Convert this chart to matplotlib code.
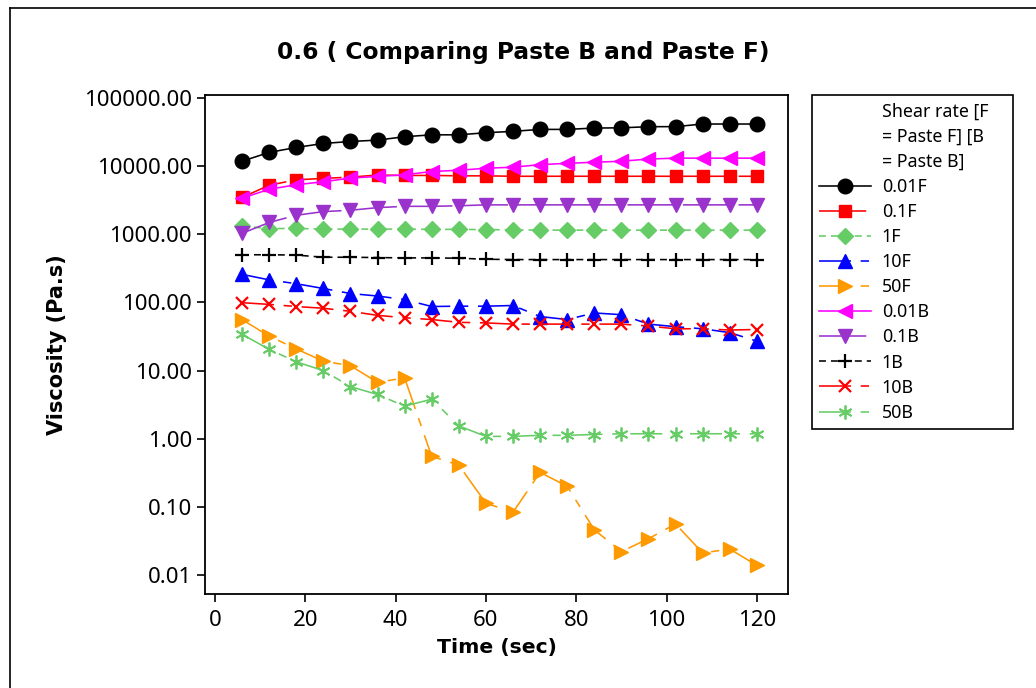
import matplotlib
matplotlib.use("Agg")
import matplotlib.pyplot as plt
from matplotlib.lines import Line2D
from matplotlib.ticker import FixedLocator, FixedFormatter

plt.rcParams['font.family'] = ['Noto Sans', 'DejaVu Sans']
plt.rcParams['lines.scale_dashes'] = False

time_sec = [6, 12, 18, 24, 30, 36, 42, 48, 54, 60, 66, 72, 78, 84, 90, 96, 102, 108, 114, 120]

visc_001F = [11800, 15900, 18800, 21500, 23000, 24100, 27000, 28800, 28800, 30900,
             32400, 34600, 34600, 36200, 36500, 37900, 38000, 41500, 41500, 41500]
visc_01F = [3470, 5240, 6300, 6600, 6900, 7400, 7300, 7300, 7200, 7200,
            7100, 7100, 7100, 7100, 7100, 7100, 7100, 7100, 7100, 7100]
visc_1F = [1320, 1210, 1220, 1190, 1190, 1190, 1190, 1180, 1180, 1170,
           1160, 1150, 1150, 1150, 1150, 1150, 1150, 1150, 1150, 1150]
visc_10F = [258, 214, 188, 160, 135, 124, 110, 87, 88, 88,
            90, 62, 56, 70, 66, 48, 44, 41, 36, 27]
visc_50F = [56, 32, 20.8, 13.7, 11.8, 6.7, 7.8, 0.55, 0.41, 0.113,
            0.083, 0.32, 0.20, 0.046, 0.022, 0.034, 0.056, 0.021, 0.024, 0.0138]
visc_001B = [3390, 4570, 5330, 5900, 6670, 7060, 7470, 8330, 8700, 9300,
             9650, 10500, 11000, 11400, 11800, 12700, 13100, 13100, 13100, 13100]
visc_01B = [1030, 1490, 1900, 2150, 2250, 2460, 2570, 2570, 2620, 2700,
            2700, 2700, 2700, 2700, 2700, 2700, 2700, 2700, 2700, 2700]
visc_1B = [500, 500, 495, 460, 460, 455, 450, 450, 445, 430,
           425, 425, 425, 425, 425, 425, 425, 425, 425, 425]
visc_10B = [99, 93.5, 87, 82, 74, 64.5, 59.6, 56, 51, 50,
            48, 48, 48, 48, 48, 45, 41, 41, 39.3, 40]
visc_50B = [34, 20.5, 13.4, 10, 5.8, 4.45, 3.0, 3.8, 1.54, 1.08,
            1.08, 1.12, 1.12, 1.15, 1.18, 1.18, 1.18, 1.18, 1.18, 1.18]

series_labels = ['0.01F', '0.1F', '1F', '10F', '50F', '0.01B', '0.1B', '1B', '10B', '50B']
series_values = [visc_001F, visc_01F, visc_1F, visc_10F, visc_50F,
                 visc_001B, visc_01B, visc_1B, visc_10B, visc_50B]

ytick_vals = [0.01, 0.1, 1, 10, 100, 1000, 10000, 100000]
ytick_labels = ['0.01', '0.10', '1.00', '10.00', '100.00', '1000.00', '10000.00', '100000.00']
xtick_vals = [0, 20, 40, 60, 80, 100, 120]

longshort = (0, (23, 7, 6, 7))
longdash = (0, (34, 6))
dashed = (0, (5, 3.6))
styles = [
    dict(color='black', marker='o', ms=10.5, ls='-'),
    dict(color='#FF0000', marker='s', ms=9, ls=longdash),
    dict(color='#66CC66', marker='D', ms=8.5, ls=dashed),
    dict(color='#0000FF', marker='^', ms=10.5, ls=longshort),
    dict(color='#FF9900', marker='>', ms=10.5, ls=longshort),
    dict(color='#FF00FF', marker='<', ms=10.5, ls='-'),
    dict(color='#9933CC', marker='v', ms=10.5, ls=longdash),
    dict(color='black', marker='+', ms=10, ls=dashed, mew=1.6),
    dict(color='#FF0000', marker='x', ms=8.5, ls=longshort, mew=1.6),
    dict(color='#66CC66', marker=(6, 2, 0), ms=10, ls=longshort, mew=1.3),
]

BOLD = dict(family='DejaVu Sans', fontweight='bold')

fig = plt.figure(figsize=(10.36, 6.88), dpi=100)
ax = fig.add_axes([205/1036, 1-594/688, (788-205)/1036, (594-95)/688])

handles = []
for vals, lab, st in zip(series_values, series_labels, styles):
    st = dict(st)
    mew = st.pop('mew', 1.0)
    h, = ax.plot(time_sec, vals, label=lab, lw=1.15, mew=mew, **st)
    handles.append(h)

ax.set_yscale('log')
ax.set_xlim(-2.2, 126.9)
ax.set_ylim(10**-2.28, 10**5.044)
ax.yaxis.set_major_locator(FixedLocator(ytick_vals))
ax.yaxis.set_major_formatter(FixedFormatter(ytick_labels))
ax.yaxis.set_minor_locator(FixedLocator([]))
ax.set_xticks(xtick_vals)
ax.tick_params(axis='both', direction='out', length=5.5, width=1.2, labelsize=16, pad=4)
ax.tick_params(axis='x', pad=6)
for sp in ax.spines.values():
    sp.set_linewidth(1.3)

ax.set_xlabel('Time (sec)', fontsize=14.7, labelpad=5, **BOLD)
ax.set_ylabel('Viscosity (Pa.s)', fontsize=15, labelpad=12, **BOLD)
fig.text(0.505, 1-53/688, '0.6 ( Comparing Paste B and Paste F)', ha='center', va='center',
         fontsize=16.8, **BOLD)

blank = [Line2D([], [], lw=0, marker=None) for _ in range(3)]
leg_labels = ['Shear rate [F', '= Paste F] [B', '= Paste B]'] + series_labels
leg = fig.legend(blank + handles, leg_labels, loc='upper left',
                 bbox_to_anchor=(812/1036, 1-95/688, (1013-812)/1036, 0), mode='expand',
                 borderaxespad=0, fontsize=12.8, frameon=True, fancybox=False,
                 edgecolor='black', framealpha=1, handlelength=2.9, handletextpad=0.6,
                 labelspacing=0.40, borderpad=0.42)
leg.get_frame().set_linewidth(1.2)

fig.add_artist(Line2D([10/1036, 10/1036], [0, 1-8/688], color='black', lw=1.2, transform=fig.transFigure))
fig.add_artist(Line2D([10/1036, 1], [1-8/688, 1-8/688], color='black', lw=1.2, transform=fig.transFigure))

fig.savefig('out.png', dpi=100)
